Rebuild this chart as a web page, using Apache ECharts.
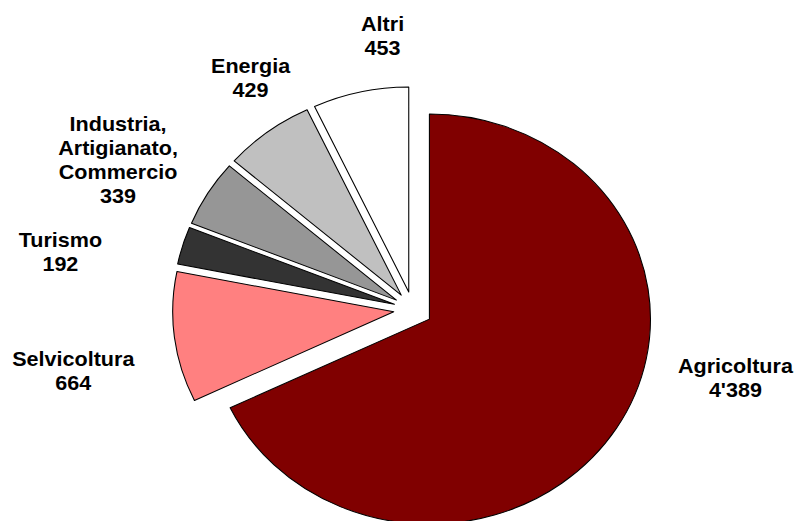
<!DOCTYPE html>
<html>
<head>
<meta charset="utf-8">
<script src="https://cdn.jsdelivr.net/npm/echarts@6/dist/echarts.min.js"></script>
<style>
  html, body { margin: 0; padding: 0; background: #fff; overflow: hidden; }
  #wrap { width: 799px; height: 521px; overflow: hidden; }
  #chart { width: 741px; height: 521px; transform: scaleX(1.0783); transform-origin: 0 0; }
</style>
</head>
<body>
<div id="wrap"><div id="chart"></div></div>
<script>
// Data
const categories = ['Agricoltura', 'Selvicoltura', 'Turismo', 'Industria,\nArtigianato,\nCommercio', 'Energia', 'Altri'];
const values = [4389, 664, 192, 339, 429, 453];

// Styling (kept separate from data)
const colors = ['#800000', '#FF8080', '#333333', '#969696', '#C0C0C0', '#FFFFFF'];
const labelCenters = [[682, 378], [68, 371], [56, 251.5], [109.5, 160], [232.4, 78], [354.8, 35.5]];

function fmt(v) {
  return String(v).replace(/\B(?=(\d{3})+(?!\d))/g, "'");
}

const chart = echarts.init(document.getElementById('chart'), null, { renderer: 'svg' });
chart.setOption({
  animation: false,
  graphic: categories.map((n, i) => ({
    type: 'text',
    x: labelCenters[i][0],
    y: labelCenters[i][1],
    silent: true,
    style: {
      text: n + '\n' + fmt(values[i]),
      fontFamily: 'Liberation Sans, Arial, sans-serif',
      fontWeight: 'bold',
      fontSize: 20,
      lineHeight: 24,
      fill: '#000',
      align: 'center',
      verticalAlign: 'middle'
    }
  })),
  series: [{
    type: 'pie',
    center: [383, 309.5],
    radius: [0, 205],
    startAngle: 90,
    clockwise: true,
    selectedMode: 'multiple',
    selectedOffset: 18,
    avoidLabelOverlap: false,
    itemStyle: { borderColor: '#000', borderWidth: 1 },
    emphasis: { disabled: true },
    label: { show: false },
    labelLine: { show: false },
    data: categories.map((n, i) => ({
      name: n,
      value: values[i],
      selected: true,
      itemStyle: { color: colors[i] }
    }))
  }]
});
</script>
</body>
</html>
